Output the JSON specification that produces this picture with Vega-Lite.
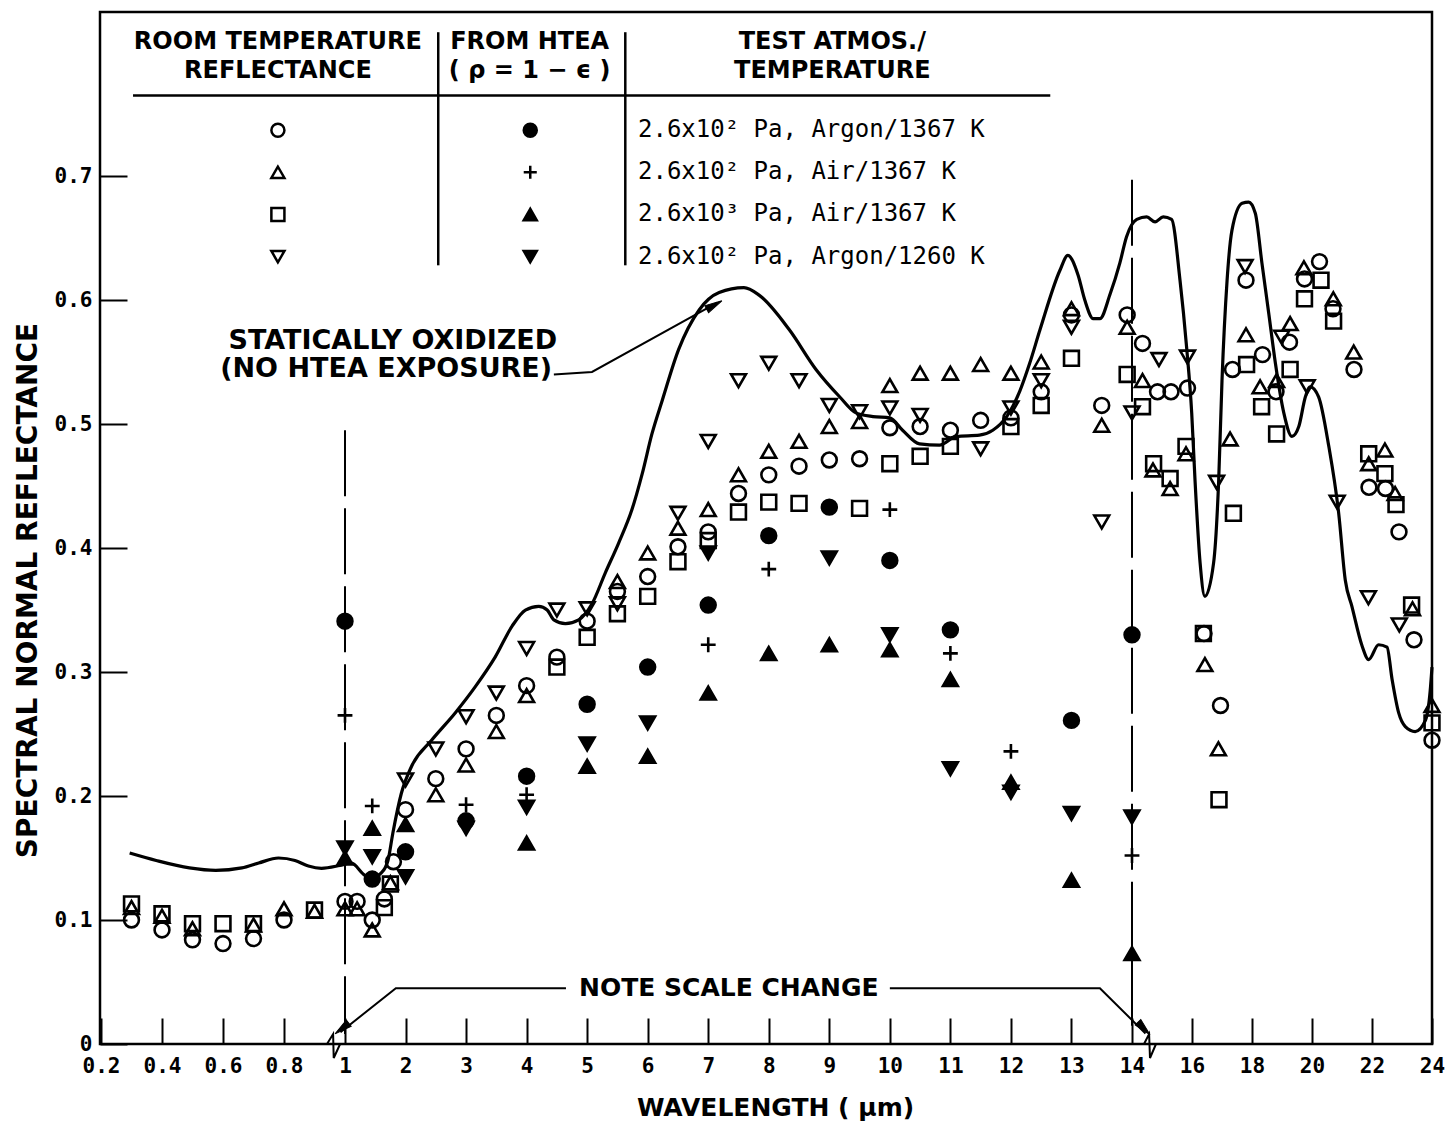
{
  "$schema": "https://vega.github.io/schema/vega-lite/v6.json",
  "width": 1332,
  "height": 1032,
  "autosize": "none",
  "padding": {"left": 100, "top": 12, "right": 17, "bottom": 77},
  "background": "white",
  "config": {
    "font": "DejaVu Sans",
    "view": {"stroke": "black", "strokeWidth": 2.5}
  },
  "datasets": {
    "curve": [
      {"w":0.294,"v":0.154},{"w":0.381,"v":0.148},{"w":0.49,"v":0.142},{"w":0.576,"v":0.140},{"w":0.662,"v":0.142},{"w":0.717,"v":0.146},{"w":0.782,"v":0.150},{"w":0.836,"v":0.148},{"w":0.88,"v":0.1435},{"w":0.923,"v":0.1417},{"w":0.983,"v":0.144},
      {"w":1.10,"v":0.146},{"w":1.33,"v":0.136},{"w":1.44,"v":0.134},{"w":1.60,"v":0.138},{"w":1.71,"v":0.148},{"w":1.79,"v":0.170},{"w":1.93,"v":0.202},{"w":2.10,"v":0.224},{"w":2.43,"v":0.245},{"w":2.82,"v":0.267},{"w":3.15,"v":0.288},{"w":3.48,"v":0.312},{"w":3.76,"v":0.337},{"w":3.98,"v":0.350},{"w":4.20,"v":0.353},{"w":4.34,"v":0.350},{"w":4.45,"v":0.342},{"w":4.64,"v":0.339},{"w":4.86,"v":0.342},{"w":5.08,"v":0.355},{"w":5.30,"v":0.380},{"w":5.52,"v":0.404},{"w":5.74,"v":0.431},{"w":5.91,"v":0.460},{"w":6.07,"v":0.492},{"w":6.24,"v":0.519},{"w":6.51,"v":0.560},{"w":6.85,"v":0.592},{"w":7.18,"v":0.606},{"w":7.59,"v":0.610},{"w":7.84,"v":0.604},{"w":8.34,"v":0.576},{"w":8.78,"v":0.544},{"w":9.17,"v":0.522},{"w":9.44,"v":0.509},{"w":9.72,"v":0.506},{"w":10.0,"v":0.505},{"w":10.21,"v":0.495},{"w":10.49,"v":0.484},{"w":10.82,"v":0.483},{"w":11.10,"v":0.490},{"w":11.48,"v":0.491},{"w":11.70,"v":0.495},{"w":11.93,"v":0.506},{"w":12.15,"v":0.527},{"w":12.31,"v":0.549},{"w":12.48,"v":0.576},{"w":12.81,"v":0.624},{"w":12.94,"v":0.636},{"w":13.11,"v":0.620},{"w":13.22,"v":0.600},{"w":13.36,"v":0.585},{"w":13.47,"v":0.585},{"w":13.64,"v":0.605},{"w":13.80,"v":0.630},{"w":13.91,"v":0.651},
      {"w":14.16,"v":0.665},{"w":14.49,"v":0.667},{"w":14.77,"v":0.663},{"w":15.04,"v":0.667},{"w":15.32,"v":0.665},{"w":15.6,"v":0.616},{"w":15.82,"v":0.562},{"w":15.99,"v":0.509},{"w":16.1,"v":0.455},{"w":16.27,"v":0.388},{"w":16.43,"v":0.361},{"w":16.72,"v":0.388},{"w":16.89,"v":0.455},{"w":17.0,"v":0.535},{"w":17.17,"v":0.616},{"w":17.33,"v":0.656},{"w":17.67,"v":0.678},{"w":17.89,"v":0.679},{"w":18.11,"v":0.670},{"w":18.33,"v":0.630},{"w":18.56,"v":0.589},{"w":18.78,"v":0.549},{"w":19.06,"v":0.509},{"w":19.33,"v":0.490},{"w":19.56,"v":0.498},{"w":19.78,"v":0.522},{"w":19.94,"v":0.530},{"w":20.22,"v":0.522},{"w":20.56,"v":0.482},{"w":20.89,"v":0.428},{"w":21.11,"v":0.374},{"w":21.33,"v":0.353},{"w":21.67,"v":0.321},{"w":21.89,"v":0.310},{"w":22.22,"v":0.322},{"w":22.5,"v":0.320},{"w":22.67,"v":0.294},{"w":22.89,"v":0.267},{"w":23.11,"v":0.256},{"w":23.44,"v":0.252},{"w":23.78,"v":0.261},{"w":23.94,"v":0.285},{"w":24.0,"v":0.304}
    ],
    "pts": [
      {"s":"RA","w":0.3,"v":0.100},{"s":"RA","w":0.4,"v":0.092},{"s":"RA","w":0.5,"v":0.084},{"s":"RA","w":0.6,"v":0.081},{"s":"RA","w":0.7,"v":0.085},{"s":"RA","w":0.8,"v":0.100},{"s":"RA","w":1.0,"v":0.115},{"s":"RA","w":1.2,"v":0.115},{"s":"RA","w":1.45,"v":0.100},{"s":"RA","w":1.65,"v":0.117},{"s":"RA","w":1.8,"v":0.147},{"s":"RA","w":2.0,"v":0.189},{"s":"RA","w":2.5,"v":0.214},{"s":"RA","w":3.0,"v":0.238},{"s":"RA","w":3.5,"v":0.265},{"s":"RA","w":4.0,"v":0.289},{"s":"RA","w":4.5,"v":0.312},{"s":"RA","w":5.0,"v":0.341},{"s":"RA","w":5.5,"v":0.365},{"s":"RA","w":6.0,"v":0.377},{"s":"RA","w":6.5,"v":0.401},{"s":"RA","w":7.0,"v":0.413},{"s":"RA","w":7.5,"v":0.444},{"s":"RA","w":8.0,"v":0.459},{"s":"RA","w":8.5,"v":0.466},{"s":"RA","w":9.0,"v":0.471},{"s":"RA","w":9.5,"v":0.472},{"s":"RA","w":10.0,"v":0.497},{"s":"RA","w":10.5,"v":0.498},{"s":"RA","w":11.0,"v":0.495},{"s":"RA","w":11.5,"v":0.503},{"s":"RA","w":12.0,"v":0.505},{"s":"RA","w":12.5,"v":0.526},{"s":"RA","w":13.0,"v":0.588},{"s":"RA","w":13.5,"v":0.515},{"s":"RA","w":13.92,"v":0.588},{"s":"RA","w":14.35,"v":0.565},{"s":"RA","w":14.85,"v":0.526},{"s":"RA","w":15.3,"v":0.526},{"s":"RA","w":15.85,"v":0.529},{"s":"RA","w":16.4,"v":0.331},{"s":"RA","w":16.95,"v":0.273},{"s":"RA","w":17.35,"v":0.544},{"s":"RA","w":17.8,"v":0.616},{"s":"RA","w":18.35,"v":0.556},{"s":"RA","w":18.8,"v":0.526},{"s":"RA","w":19.25,"v":0.566},{"s":"RA","w":19.75,"v":0.617},{"s":"RA","w":20.25,"v":0.631},{"s":"RA","w":20.7,"v":0.593},{"s":"RA","w":21.4,"v":0.544},{"s":"RA","w":21.9,"v":0.449},{"s":"RA","w":22.45,"v":0.448},{"s":"RA","w":22.9,"v":0.413},{"s":"RA","w":23.4,"v":0.326},{"s":"RA","w":24.0,"v":0.245},
      {"s":"RB","w":0.3,"v":0.110},{"s":"RB","w":0.4,"v":0.103},{"s":"RB","w":0.5,"v":0.093},{"s":"RB","w":0.7,"v":0.096},{"s":"RB","w":0.8,"v":0.109},{"s":"RB","w":0.9,"v":0.107},{"s":"RB","w":1.0,"v":0.109},{"s":"RB","w":1.2,"v":0.109},{"s":"RB","w":1.45,"v":0.092},{"s":"RB","w":1.75,"v":0.130},{"s":"RB","w":2.5,"v":0.201},{"s":"RB","w":3.0,"v":0.225},{"s":"RB","w":3.5,"v":0.252},{"s":"RB","w":4.0,"v":0.281},{"s":"RB","w":5.5,"v":0.373},{"s":"RB","w":6.0,"v":0.396},{"s":"RB","w":6.5,"v":0.416},{"s":"RB","w":7.0,"v":0.431},{"s":"RB","w":7.5,"v":0.459},{"s":"RB","w":8.0,"v":0.478},{"s":"RB","w":8.5,"v":0.486},{"s":"RB","w":9.0,"v":0.498},{"s":"RB","w":9.5,"v":0.502},{"s":"RB","w":10.0,"v":0.531},{"s":"RB","w":10.5,"v":0.541},{"s":"RB","w":11.0,"v":0.541},{"s":"RB","w":11.5,"v":0.548},{"s":"RB","w":12.0,"v":0.541},{"s":"RB","w":12.5,"v":0.550},{"s":"RB","w":13.0,"v":0.593},{"s":"RB","w":13.5,"v":0.499},{"s":"RB","w":13.92,"v":0.578},{"s":"RB","w":14.35,"v":0.535},{"s":"RB","w":14.7,"v":0.463},{"s":"RB","w":15.27,"v":0.448},{"s":"RB","w":15.8,"v":0.476},{"s":"RB","w":16.43,"v":0.306},{"s":"RB","w":16.88,"v":0.238},{"s":"RB","w":17.27,"v":0.488},{"s":"RB","w":17.8,"v":0.572},{"s":"RB","w":18.27,"v":0.530},{"s":"RB","w":18.82,"v":0.535},{"s":"RB","w":19.27,"v":0.581},{"s":"RB","w":19.73,"v":0.626},{"s":"RB","w":20.71,"v":0.601},{"s":"RB","w":21.39,"v":0.558},{"s":"RB","w":21.89,"v":0.468},{"s":"RB","w":22.43,"v":0.479},{"s":"RB","w":22.77,"v":0.444},{"s":"RB","w":23.35,"v":0.351},{"s":"RB","w":24.0,"v":0.273},
      {"s":"RC","w":0.3,"v":0.113},{"s":"RC","w":0.4,"v":0.105},{"s":"RC","w":0.5,"v":0.097},{"s":"RC","w":0.6,"v":0.097},{"s":"RC","w":0.7,"v":0.097},{"s":"RC","w":0.9,"v":0.108},{"s":"RC","w":1.65,"v":0.110},{"s":"RC","w":1.75,"v":0.129},{"s":"RC","w":4.5,"v":0.304},{"s":"RC","w":5.0,"v":0.328},{"s":"RC","w":5.5,"v":0.347},{"s":"RC","w":6.0,"v":0.361},{"s":"RC","w":6.5,"v":0.389},{"s":"RC","w":7.0,"v":0.406},{"s":"RC","w":7.5,"v":0.429},{"s":"RC","w":8.0,"v":0.437},{"s":"RC","w":8.5,"v":0.436},{"s":"RC","w":9.5,"v":0.432},{"s":"RC","w":10.0,"v":0.468},{"s":"RC","w":10.5,"v":0.474},{"s":"RC","w":11.0,"v":0.482},{"s":"RC","w":12.0,"v":0.498},{"s":"RC","w":12.5,"v":0.515},{"s":"RC","w":13.0,"v":0.553},{"s":"RC","w":13.92,"v":0.540},{"s":"RC","w":14.35,"v":0.514},{"s":"RC","w":14.72,"v":0.468},{"s":"RC","w":15.27,"v":0.456},{"s":"RC","w":15.8,"v":0.482},{"s":"RC","w":16.38,"v":0.331},{"s":"RC","w":16.9,"v":0.197},{"s":"RC","w":17.38,"v":0.428},{"s":"RC","w":17.82,"v":0.548},{"s":"RC","w":18.32,"v":0.514},{"s":"RC","w":18.82,"v":0.492},{"s":"RC","w":19.27,"v":0.544},{"s":"RC","w":19.75,"v":0.601},{"s":"RC","w":20.3,"v":0.616},{"s":"RC","w":20.72,"v":0.583},{"s":"RC","w":21.89,"v":0.476},{"s":"RC","w":22.43,"v":0.460},{"s":"RC","w":22.8,"v":0.435},{"s":"RC","w":23.32,"v":0.354},{"s":"RC","w":24.0,"v":0.259},
      {"s":"RD","w":2.0,"v":0.213},{"s":"RD","w":2.5,"v":0.238},{"s":"RD","w":3.0,"v":0.264},{"s":"RD","w":3.5,"v":0.283},{"s":"RD","w":4.0,"v":0.319},{"s":"RD","w":4.5,"v":0.350},{"s":"RD","w":5.0,"v":0.351},{"s":"RD","w":5.5,"v":0.355},{"s":"RD","w":6.5,"v":0.428},{"s":"RD","w":7.0,"v":0.486},{"s":"RD","w":7.5,"v":0.535},{"s":"RD","w":8.0,"v":0.549},{"s":"RD","w":8.5,"v":0.535},{"s":"RD","w":9.0,"v":0.515},{"s":"RD","w":9.5,"v":0.510},{"s":"RD","w":10.0,"v":0.513},{"s":"RD","w":10.5,"v":0.507},{"s":"RD","w":11.5,"v":0.480},{"s":"RD","w":12.0,"v":0.513},{"s":"RD","w":12.5,"v":0.535},{"s":"RD","w":13.0,"v":0.578},{"s":"RD","w":13.5,"v":0.421},{"s":"RD","w":14.0,"v":0.509},{"s":"RD","w":14.9,"v":0.552},{"s":"RD","w":15.85,"v":0.554},{"s":"RD","w":16.82,"v":0.453},{"s":"RD","w":17.77,"v":0.627},{"s":"RD","w":18.99,"v":0.570},{"s":"RD","w":19.84,"v":0.530},{"s":"RD","w":20.84,"v":0.437},{"s":"RD","w":21.88,"v":0.360},{"s":"RD","w":22.91,"v":0.338},
      {"s":"HA","w":1.0,"v":0.341},{"s":"HA","w":1.45,"v":0.133},{"s":"HA","w":2.0,"v":0.155},{"s":"HA","w":3.0,"v":0.180},{"s":"HA","w":4.0,"v":0.216},{"s":"HA","w":5.0,"v":0.274},{"s":"HA","w":6.0,"v":0.304},{"s":"HA","w":7.0,"v":0.354},{"s":"HA","w":8.0,"v":0.410},{"s":"HA","w":9.0,"v":0.433},{"s":"HA","w":10.0,"v":0.390},{"s":"HA","w":11.0,"v":0.334},{"s":"HA","w":13.0,"v":0.261},{"s":"HA","w":14.0,"v":0.330},
      {"s":"HB","w":1.0,"v":0.265},{"s":"HB","w":1.45,"v":0.192},{"s":"HB","w":3.0,"v":0.193},{"s":"HB","w":4.0,"v":0.201},{"s":"HB","w":7.0,"v":0.322},{"s":"HB","w":8.0,"v":0.383},{"s":"HB","w":10.0,"v":0.431},{"s":"HB","w":11.0,"v":0.315},{"s":"HB","w":12.0,"v":0.236},{"s":"HB","w":14.0,"v":0.152},
      {"s":"HC","w":1.0,"v":0.150},{"s":"HC","w":1.45,"v":0.174},{"s":"HC","w":2.0,"v":0.177},{"s":"HC","w":4.0,"v":0.162},{"s":"HC","w":5.0,"v":0.224},{"s":"HC","w":6.0,"v":0.232},{"s":"HC","w":7.0,"v":0.283},{"s":"HC","w":8.0,"v":0.315},{"s":"HC","w":9.0,"v":0.322},{"s":"HC","w":10.0,"v":0.318},{"s":"HC","w":11.0,"v":0.294},{"s":"HC","w":12.0,"v":0.211},{"s":"HC","w":13.0,"v":0.132},{"s":"HC","w":14.0,"v":0.073},
      {"s":"HD","w":1.0,"v":0.158},{"s":"HD","w":1.45,"v":0.151},{"s":"HD","w":2.0,"v":0.135},{"s":"HD","w":3.0,"v":0.174},{"s":"HD","w":4.0,"v":0.191},{"s":"HD","w":5.0,"v":0.242},{"s":"HD","w":6.0,"v":0.259},{"s":"HD","w":7.0,"v":0.396},{"s":"HD","w":9.0,"v":0.392},{"s":"HD","w":10.0,"v":0.330},{"s":"HD","w":11.0,"v":0.222},{"s":"HD","w":12.0,"v":0.203},{"s":"HD","w":13.0,"v":0.186},{"s":"HD","w":14.0,"v":0.183}
    ],
    "legendSym": [
      {"s":"RA","w":0.78,"v":0.737},{"s":"RB","w":0.78,"v":0.703},{"s":"RC","w":0.78,"v":0.669},{"s":"RD","w":0.78,"v":0.635},
      {"s":"HA","w":4.06,"v":0.737},{"s":"HB","w":4.06,"v":0.703},{"s":"HC","w":4.06,"v":0.669},{"s":"HD","w":4.06,"v":0.635}
    ]
  },
  "encoding": {
    "x": {
      "field": "w", "type": "quantitative",
      "scale": {"domain": [0.2, 1, 14, 24], "range": [1, 245, 1032, 1332], "nice": false, "zero": false},
      "axis": {
        "values": [0.2,0.4,0.6,0.8,1,2,3,4,5,6,7,8,9,10,11,12,13,14,16,18,20,22,24],
        "labelExpr": "datum.value < 1 ? format(datum.value, '.1f') : format(datum.value, 'd')",
        "domain": false, "grid": false,
        "tickSize": -26, "tickWidth": 2, "tickColor": "black",
        "labelFont": "DejaVu Sans Mono", "labelFontSize": 21, "labelFontWeight": "bold", "labelColor": "black", "labelPadding": 37,
        "labelOverlap": false, "labelFlush": false,
        "title": "WAVELENGTH ( μm)", "titleFont": "DejaVu Sans", "titleFontSize": 25, "titleFontWeight": "bold", "titleColor": "black",
        "titleX": 675, "titleY": 63, "titleBaseline": "middle", "titleAlign": "center"
      }
    },
    "y": {
      "field": "v", "type": "quantitative",
      "scale": {"domain": [0, 0.8323], "nice": false, "zero": false},
      "axis": {
        "values": [0,0.1,0.2,0.3,0.4,0.5,0.6,0.7],
        "labelExpr": "datum.value == 0 ? '0' : format(datum.value, '.1f')",
        "domain": false, "grid": false,
        "tickSize": -27, "tickWidth": 2, "tickColor": "black",
        "labelFont": "DejaVu Sans Mono", "labelFontSize": 21, "labelFontWeight": "bold", "labelColor": "black", "labelPadding": 35,
        "title": "SPECTRAL NORMAL REFLECTANCE", "titleFont": "DejaVu Sans", "titleFontSize": 28, "titleFontWeight": "bold", "titleColor": "black",
        "titleX": -72, "titleY": 578, "titleAngle": -90, "titleBaseline": "middle", "titleAlign": "center"
      }
    }
  },
  "layer": [
    {
      "data": {"values": [{"w":0.3},{"w":0.5},{"w":0.7},{"w":0.9},{"w":1.5},{"w":2.5},{"w":3.5},{"w":4.5},{"w":5.5},{"w":6.5},{"w":7.5},{"w":8.5},{"w":9.5},{"w":10.5},{"w":11.5},{"w":12.5},{"w":13.5},{"w":15},{"w":17},{"w":19},{"w":21},{"w":23}]},
      "mark": {"type": "rule", "color": "black", "strokeWidth": 2},
      "encoding": {"y": {"datum": 0}, "y2": {"datum": 0.0105}}
    },
    {
      "data": {"values": [{"v":0.05},{"v":0.15},{"v":0.25},{"v":0.35},{"v":0.45},{"v":0.55},{"v":0.65}]},
      "mark": {"type": "rule", "color": "black", "strokeWidth": 2},
      "encoding": {"x": {"datum": 0.1967}, "x2": {"datum": 0.2393}}
    },
    {
      "data": {"name": "curve"},
      "mark": {"type": "line", "color": "black", "strokeWidth": 3.2, "interpolate": "monotone"}
    },
    {
      "data": {"values": [{"w":1,"w2":1,"v":0.495,"v2":0.008},{"w":14,"w2":14,"v":0.697,"v2":0.005}]},
      "mark": {"type": "rule", "color": "black", "strokeWidth": 2, "strokeDash": [66, 12]},
      "encoding": {"x2": {"field": "w2"}, "y2": {"field": "v2"}}
    },
    {
      "data": {"values": [{"w":0.305,"w2":12.65,"v":0.765,"v2":0.765},{"w":2.54,"w2":2.54,"v":0.816,"v2":0.628},{"w":5.63,"w2":5.63,"v":0.816,"v2":0.628}]},
      "mark": {"type": "rule", "color": "black", "strokeWidth": 2.5},
      "encoding": {"x2": {"field": "w2"}, "y2": {"field": "v2"}}
    },
    {
      "data": {"values": [
        {"id":"ox","o":1,"w":4.45,"v":0.540},{"id":"ox","o":2,"w":5.08,"v":0.542},{"id":"ox","o":3,"w":7.15,"v":0.598},
        {"id":"nl","o":1,"w":4.65,"v":0.045},{"id":"nl","o":2,"w":1.84,"v":0.045},{"id":"nl","o":3,"w":0.985,"v":0.0095},
        {"id":"nr","o":1,"w":10.0,"v":0.045},{"id":"nr","o":2,"w":13.47,"v":0.045},{"id":"nr","o":3,"w":14.45,"v":0.0085},
        {"id":"bl","o":1,"w":0.941,"v":0.0},{"id":"bl","o":2,"w":0.961,"v":0.008},{"id":"bl","o":3,"w":0.963,"v":-0.0113},{"id":"bl","o":4,"w":0.984,"v":0.0},
        {"id":"br","o":1,"w":14.4,"v":0.0},{"id":"br","o":2,"w":14.57,"v":0.008},{"id":"br","o":3,"w":14.6,"v":-0.0113},{"id":"br","o":4,"w":14.8,"v":0.0}
      ]},
      "mark": {"type": "line", "color": "black", "strokeWidth": 2},
      "encoding": {"detail": {"field": "id"}, "order": {"field": "o"}}
    },
    {
      "data": {"values": [{"w":7.1,"v":0.596}]},
      "mark": {"type": "point", "shape": "M0,-1L0.45,1L-0.45,1Z", "fill": "black", "stroke": "black", "strokeWidth": 1, "size": 300, "angle": 61, "opacity": 1}
    },
    {
      "data": {"values": [{"w":0.99,"v":0.0125}]},
      "mark": {"type": "point", "shape": "M0,-1L0.45,1L-0.45,1Z", "fill": "black", "stroke": "black", "strokeWidth": 1, "size": 300, "angle": 232, "opacity": 1}
    },
    {
      "data": {"values": [{"w":14.4,"v":0.0125}]},
      "mark": {"type": "point", "shape": "M0,-1L0.45,1L-0.45,1Z", "fill": "black", "stroke": "black", "strokeWidth": 1, "size": 300, "angle": 136, "opacity": 1}
    },
    {
      "data": {"name": "pts"},
      "mark": {"type": "point", "stroke": "black", "strokeWidth": 2.6, "size": 220, "opacity": 1},
      "encoding": {
        "shape": {"field": "s", "type": "nominal", "legend": null,
          "scale": {"domain": ["RA","RB","RC","RD","HA","HB","HC","HD"],
                    "range": ["circle","triangle-up","square","triangle-down","circle","M-1,0L1,0M0,-1L0,1","triangle-up","triangle-down"]}},
        "fill": {"field": "s", "type": "nominal", "legend": null,
          "scale": {"domain": ["RA","RB","RC","RD","HA","HB","HC","HD"],
                    "range": ["transparent","transparent","transparent","transparent","black","black","black","black"]}}
      }
    },
    {
      "data": {"name": "legendSym"},
      "mark": {"type": "point", "stroke": "black", "strokeWidth": 2.5, "size": 170, "opacity": 1},
      "encoding": {
        "shape": {"field": "s", "type": "nominal", "legend": null},
        "fill": {"field": "s", "type": "nominal", "legend": null}
      }
    },
    {
      "data": {"values": [
        {"w":0.78,"v":0.808,"t":"ROOM TEMPERATURE"},{"w":0.78,"v":0.785,"t":"REFLECTANCE"},
        {"w":4.05,"v":0.808,"t":"FROM HTEA"},{"w":4.05,"v":0.785,"t":"( ρ = 1 − ϵ )"},
        {"w":9.05,"v":0.808,"t":"TEST ATMOS./"},{"w":9.05,"v":0.785,"t":"TEMPERATURE"}
      ]},
      "mark": {"type": "text", "font": "DejaVu Sans", "fontSize": 24, "fontWeight": "bold", "align": "center", "baseline": "middle", "color": "black"},
      "encoding": {"text": {"field": "t"}}
    },
    {
      "data": {"values": [
        {"w":5.84,"v":0.737,"t":"2.6x10² Pa, Argon/1367 K"},
        {"w":5.84,"v":0.703,"t":"2.6x10² Pa, Air/1367 K"},
        {"w":5.84,"v":0.669,"t":"2.6x10³ Pa, Air/1367 K"},
        {"w":5.84,"v":0.635,"t":"2.6x10² Pa, Argon/1260 K"}
      ]},
      "mark": {"type": "text", "font": "DejaVu Sans Mono", "fontSize": 24, "align": "left", "baseline": "middle", "color": "black"},
      "encoding": {"text": {"field": "t"}}
    },
    {
      "data": {"values": [
        {"w":1.79,"v":0.567,"t":"STATICALLY OXIDIZED"},
        {"w":1.68,"v":0.544,"t":"(NO HTEA EXPOSURE)"}
      ]},
      "mark": {"type": "text", "font": "DejaVu Sans", "fontSize": 27, "fontWeight": "bold", "align": "center", "baseline": "middle", "color": "black"},
      "encoding": {"text": {"field": "t"}}
    },
    {
      "data": {"values": [
        {"w":7.34,"v":0.045,"t":"NOTE SCALE CHANGE"}
      ]},
      "mark": {"type": "text", "font": "DejaVu Sans", "fontSize": 25, "fontWeight": "bold", "align": "center", "baseline": "middle", "color": "black"},
      "encoding": {"text": {"field": "t"}}
    }
  ]
}
